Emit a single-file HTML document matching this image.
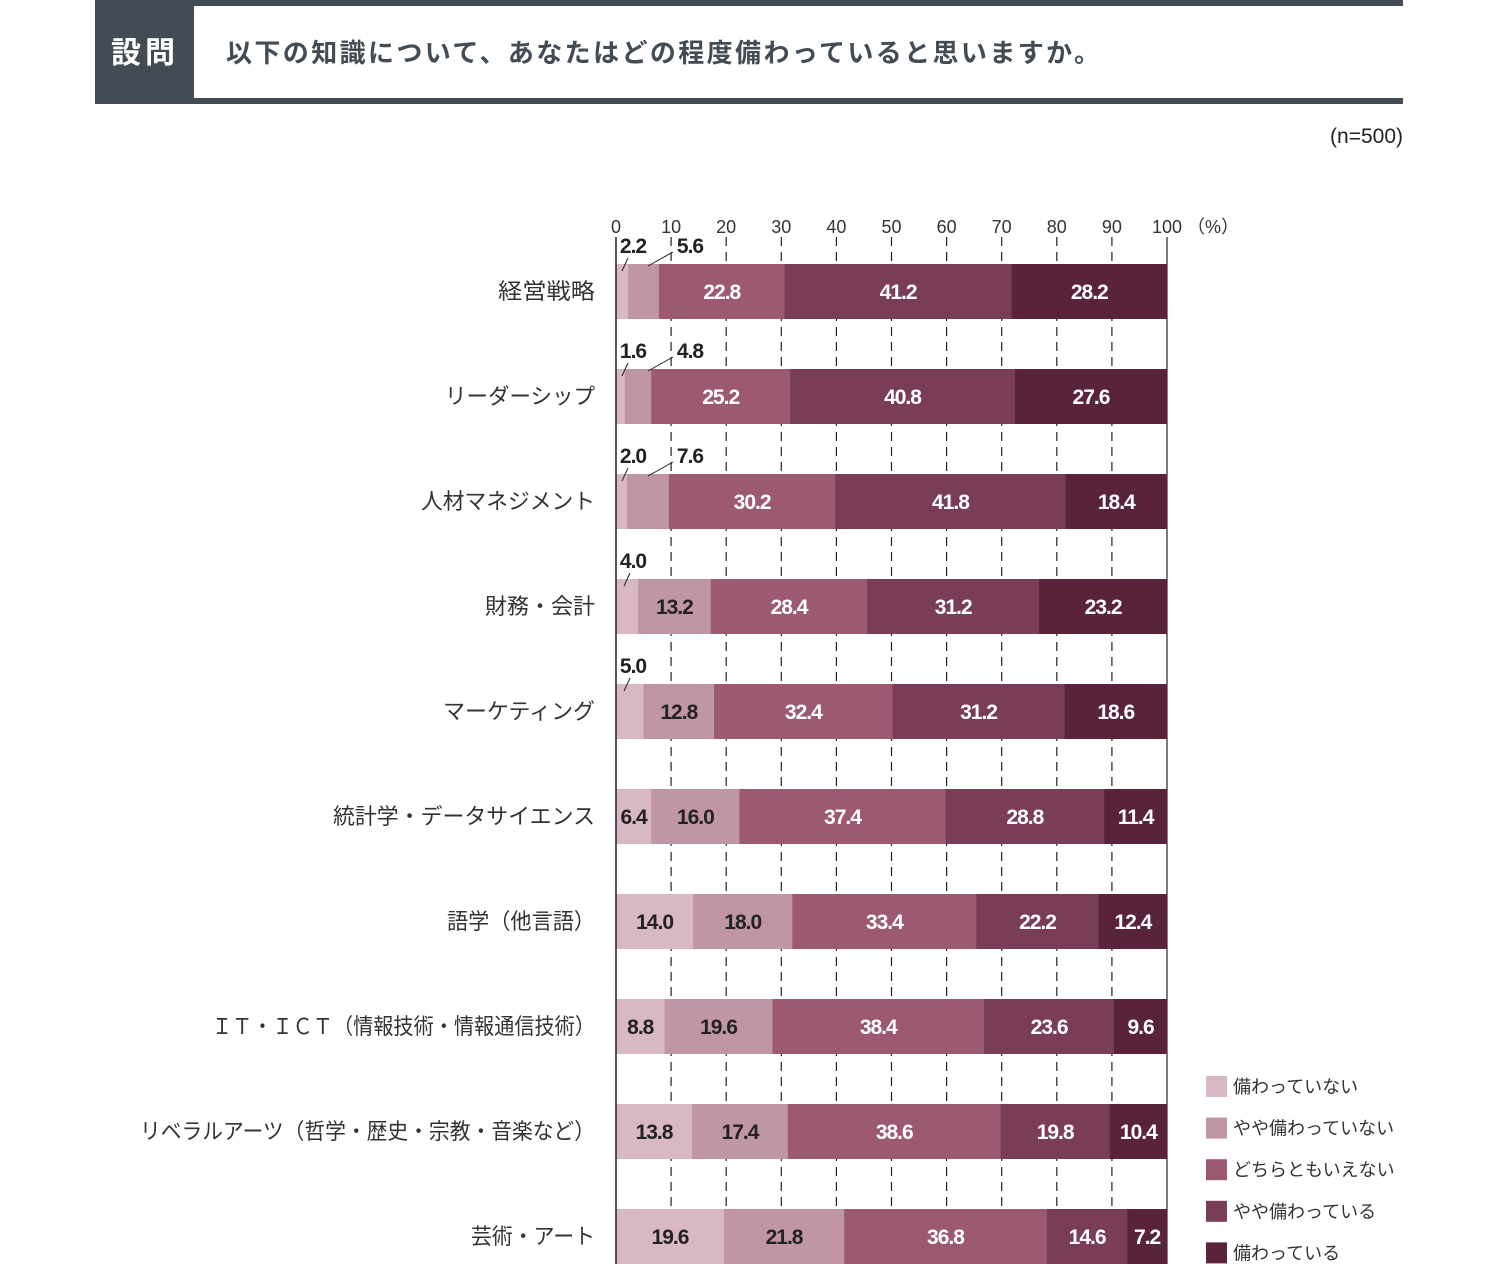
<!DOCTYPE html>
<html><head><meta charset="utf-8"><style>
body{margin:0;background:#fff;width:1498px;height:1264px;overflow:hidden;position:relative;font-family:"Liberation Sans","Noto Sans CJK JP",sans-serif}
</style></head><body>
<svg id="s" width="1498" height="1264" xmlns="http://www.w3.org/2000/svg" style="position:absolute;left:0;top:0">
<rect x="95" y="0" width="1308" height="6" fill="#434c55"/>
<rect x="95" y="98" width="1308" height="6" fill="#434c55"/>
<rect x="95" y="0" width="99" height="104" fill="#434c55"/>
<text x="145" y="63" text-anchor="middle" font-size="30" font-weight="bold" fill="#fff" font-family="Liberation Sans,Noto Sans CJK JP,sans-serif" letter-spacing="4">設問</text>
<text x="226" y="62" font-size="26" font-weight="bold" fill="#434c55" font-family="Liberation Sans,Noto Sans CJK JP,sans-serif" textLength="874" lengthAdjust="spacing">以下の知識について、あなたはどの程度備わっていると思いますか。</text>
<text x="1403" y="143" text-anchor="end" font-size="21" fill="#222" font-family="Liberation Sans,Noto Sans CJK JP,sans-serif">(n=500)</text>
</svg>
<script>
var s=document.getElementById('s'),NS='http://www.w3.org/2000/svg';
function el(t,a,txt){var e=document.createElementNS(NS,t);for(var k in a)e.setAttribute(k,a[k]);if(txt!=null)e.textContent=txt;s.appendChild(e);return e;}
var X0=616,W=5.51,F='Liberation Sans,Noto Sans CJK JP,sans-serif';
var cols=['#d8b9c3','#c096a2','#9c5a72','#7a3d58','#58233b'];
var rows=[['経営戦略',498,[2.2,5.6,22.8,41.2,28.2]],['リーダーシップ',445,[1.6,4.8,25.2,40.8,27.6]],['人材マネジメント',421,[2.0,7.6,30.2,41.8,18.4]],['財務・会計',485,[4.0,13.2,28.4,31.2,23.2]],['マーケティング',443,[5.0,12.8,32.4,31.2,18.6]],['統計学・データサイエンス',333,[6.4,16.0,37.4,28.8,11.4]],['語学（他言語）',447,[14.0,18.0,33.4,22.2,12.4]],['ＩＴ・ＩＣＴ（情報技術・情報通信技術）',212,[8.8,19.6,38.4,23.6,9.6]],['リベラルアーツ（哲学・歴史・宗教・音楽など）',140,[13.8,17.4,38.6,19.8,10.4]],['芸術・アート',471,[19.6,21.8,36.8,14.6,7.2]]];
// gridlines first
for(var k=1;k<=10;k++){var gx=X0+k*W*10;el('line',{x1:gx,y1:237,x2:gx,y2:1264,stroke:'#222','stroke-width':1.2,'stroke-dasharray':k==10?'':'9,6'});}
rows.forEach(function(r,i){
 var y=264+i*105,x=X0;
 el('text',{x:r[1],y:y+35,'font-size':22,fill:'#333','font-family':F,textLength:595-r[1],lengthAdjust:'spacingAndGlyphs'},r[0]);
 r[2].forEach(function(v,j){
  var w=v*W;el('rect',{x:x,y:y,width:w+0.5,height:55,fill:cols[j]});
  var small=(i<3&&j<2)||(i>=3&&i<5&&j==0);
  if(!small){el('text',{x:x+w/2,y:y+35,'text-anchor':'middle','font-size':21,'font-weight':'bold',fill:j<2?'#222':'#fff','font-family':F,'letter-spacing':'-1'},v.toFixed(1));}
  x+=w;
 });
});
el('line',{x1:X0,y1:237,x2:X0,y2:1264,stroke:'#222','stroke-width':1.5});
for(var k=0;k<=10;k++)el('text',{x:X0+k*W*10,y:233,'text-anchor':'middle','font-size':18,fill:'#333','font-family':F},String(k*10));
el('text',{x:1213,y:233,'text-anchor':'middle','font-size':18,fill:'#333','font-family':F},'（%）');
function sm(x,y,t){el('text',{x:x,y:y,'text-anchor':'middle','font-size':21,'font-weight':'bold',fill:'#222','font-family':F,'letter-spacing':'-1'},t);}
function ln(a,b,c,d){el('line',{x1:a,y1:b,x2:c,y2:d,stroke:'#222','stroke-width':1});}
[[0,'2.2','5.6'],[1,'1.6','4.8'],[2,'2.0','7.6']].forEach(function(q){var o=q[0]*105;sm(633,253+o,q[1]);sm(690,253+o,q[2]);ln(622,271+o,628,258+o);ln(648,266+o,673,252+o);});
[[3,'4.0'],[4,'5.0']].forEach(function(q){var o=q[0]*105;sm(633,253+o,q[1]);ln(624,271+o,630,258+o);});
['備わっていない','やや備わっていない','どちらともいえない','やや備わっている','備わっている'].forEach(function(t,i){var y=1076+i*41.6;el('rect',{x:1206,y:y,width:21,height:21,fill:cols[i]});el('text',{x:1233,y:y+17,'font-size':18,fill:'#333','font-family':F},t);});
</script>
</body></html>
